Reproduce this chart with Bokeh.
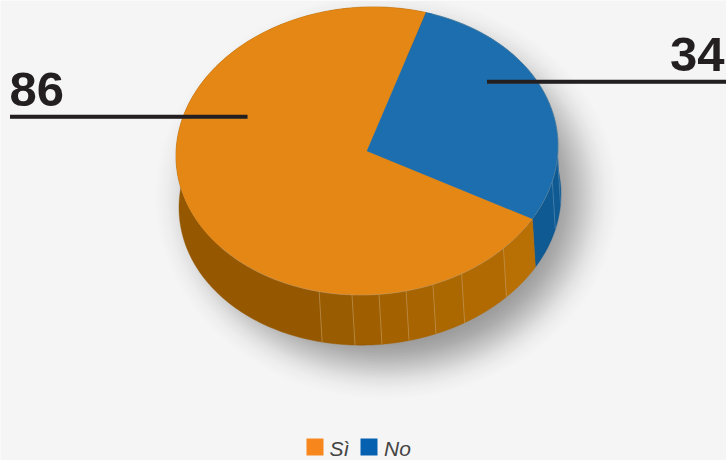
import numpy as np
from bokeh.core.properties import value
from bokeh.embed import file_html
from bokeh.models import Range1d
from bokeh.plotting import figure
from bokeh.resources import INLINE

# Survey answers
categories = ["Sì", "No"]
answers = [86, 34]
top_colors = ["#e58714", "#1c6eae"]
legend_colors = ["#f7861c", "#0660b0"]

# Page and disc geometry, in pixels
W, H = 726, 460
BG = "#f5f5f5"
INK = "#231f20"
CX, CY, RX, RY = 366.5, 150.5, 191.0, 144.0
DX, DY, SHEAR = 3.0, 50.0, -0.035
TOP_SHEAR = -0.025
START_DEG = 18.0

# Shading bands around the rim, as (first angle, last angle, colour), clockwise from the top
side_bands = [
    (120.0, 134.4, "#b86f04"),
    (134.4, 150.3, "#b16a02"),
    (150.3, 159.8, "#ab6700"),
    (159.8, 168.2, "#a76400"),
    (168.2, 176.4, "#a36100"),
    (176.4, 184.5, "#9f5f00"),
    (184.5, 194.5, "#9a5c00"),
    (194.5, 378.0, "#955800"),
]
blue_bands = [(18.0, 94.0, "#0f5a92"), (94.0, 104.0, "#0f5a92"), (104.0, 120.0, "#0f5a92")]
orange_dividers = [134.4, 150.3, 159.8, 168.2, 176.4, 184.5, 194.5]
blue_dividers = [94.0, 104.0]


def top_edge(deg):
    t = np.radians(deg)
    return CX + RX * np.sin(t), CY - RY * np.cos(t) + TOP_SHEAR * RX * np.sin(t)


def bottom_edge(deg):
    t = np.radians(deg)
    return CX + DX + RX * np.sin(t), CY + DY - RY * np.cos(t) + SHEAR * RX * np.sin(t)


p = figure(
    width=W, height=H, output_backend="svg", toolbar_location=None,
    x_range=Range1d(0, W), y_range=Range1d(H, 0),
    x_axis_type=None, y_axis_type=None,
    min_border=0, outline_line_color=None,
    background_fill_color=BG, border_fill_color=BG,
)
p.grid.visible = False

# Soft drop shadow: a stack of faint ellipses growing darker towards the middle
layers = 56
for i in range(layers):
    f = i / (layers - 1)
    rx = 240 - 90 * f
    ry = 210 - 80 * f
    weight = np.exp(-((f - 0.5) ** 2) / 0.09)
    p.ellipse(x=[386], y=[196], width=[2 * rx], height=[2 * ry],
              fill_color="black", fill_alpha=0.0135 * weight, line_color=None)

# Rim of the disc
for a, b, col in blue_bands + side_bands:
    angles = np.linspace(a, b, 160)
    tx, ty = top_edge(angles)
    bx, by = bottom_edge(angles[::-1])
    p.patch(np.r_[tx, bx], np.r_[ty, by], fill_color=col, line_color=col, line_width=0.4)

for deg in orange_dividers:
    tx, ty = top_edge(deg)
    bx, by = bottom_edge(deg)
    p.line([tx, bx], [ty, by], line_color="#d0a468", line_width=0.7, line_alpha=0.75)
for deg in blue_dividers:
    tx, ty = top_edge(deg)
    bx, by = bottom_edge(deg)
    p.line([tx, bx], [ty, by], line_color="#5f92bb", line_width=0.7, line_alpha=0.75)

# Top face: one wedge per answer, running clockwise from the "No" wedge's far edge
total = sum(answers)
spans = [a / total * 360.0 for a in answers]
no_start = START_DEG
no_end = no_start + spans[1]
si_end = no_end + spans[0]
wedges = [(no_end, si_end, top_colors[0]), (no_start, no_end, top_colors[1])]
for a, b, col in wedges:
    angles = np.linspace(a, b, 360)
    ex, ey = top_edge(angles)
    p.patch(np.r_[CX, ex], np.r_[CY, ey], fill_color=col, line_color=col, line_width=0.3)

edge_x, edge_y = top_edge(np.linspace(no_end - 100, no_end + 110, 400))
p.line(edge_x, edge_y, line_color="#a8a8a0", line_width=0.6, line_alpha=0.55)

# Leader lines with their counts
p.segment([9.5, 486.5], [117.2, 82.2], [247, 726], [117.2, 82.2], line_color="#8a8888", line_width=1.2, line_cap="butt")
p.segment([9.5, 486.5], [116.2, 81.2], [247, 726], [116.2, 81.2], line_color=INK, line_width=4, line_cap="butt")

p.text(x=[9], y=[89], text=[str(answers[0])], text_font=value("Liberation Sans"),
       text_font_style="bold", text_font_size="49px", text_color=INK,
       text_align="left", text_baseline="middle")
p.text(x=[724], y=[54], text=[str(answers[1])], text_font=value("Liberation Sans"),
       text_font_style="bold", text_font_size="49px", text_color=INK,
       text_align="right", text_baseline="middle")

# Legend
p.rect(x=[314.5, 368.5], y=[446.5, 446.5], width=[17, 17], height=[17, 17],
       fill_color=legend_colors, line_color=None)
p.text(x=[329, 383.5], y=[448, 448], text=categories, text_font=value("Liberation Sans"),
       text_font_style="italic", text_font_size="21px", text_color="#444444",
       text_align="left", text_baseline="middle")

open("out.html", "w").write(file_html(p, INLINE))
